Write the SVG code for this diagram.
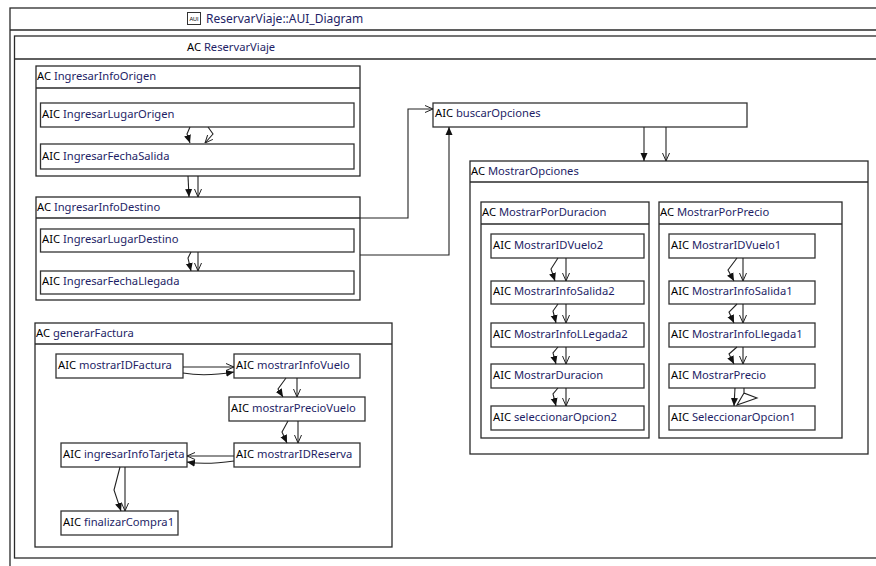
<svg xmlns="http://www.w3.org/2000/svg" width="876" height="566" viewBox="0 0 876 566">
<defs>
<style>
.fr{fill:#fff;stroke:#2a2a2a;stroke-width:1.3}
.bx{fill:#fff;stroke:#333;stroke-width:1.3}
.hl{stroke:#2a2a2a;stroke-width:1.3}
.t{font-family:"Noto Sans","Open Sans",sans-serif;font-size:11.2px;fill:#000}
.n{fill:#1e1e66}
.c{fill:none;stroke:#222;stroke-width:1.1}
</style>
<marker id="fa" viewBox="0 0 8 8" refX="8" refY="4" markerWidth="8" markerHeight="8" markerUnits="userSpaceOnUse" orient="auto"><path d="M0,0.5 L8,4 L0,7.5 z" fill="#111"/></marker>
<marker id="oa" viewBox="0 0 8 8" refX="8" refY="4" markerWidth="8" markerHeight="8" markerUnits="userSpaceOnUse" orient="auto"><path d="M0,0.5 L8,4 L0,7.5" fill="none" stroke="#222" stroke-width="1"/></marker>
</defs>
<rect width="876" height="566" fill="#fff"/>

<g id="frame-diagram">
<rect class="fr" x="10" y="8" width="880" height="570"/>
<line class="hl" x1="10" y1="30" x2="876" y2="30"/>
<rect x="187.5" y="12.5" width="13" height="12" fill="#fff" stroke="#333" stroke-width="1"/>
<text x="194" y="21" font-family="Liberation Sans,sans-serif" font-size="5.5" text-anchor="middle" fill="#000">AUI</text>
<text class="t" x="206" y="23" style="font-size:12px"><tspan class="n">ReservarViaje::AUI_Diagram</tspan></text>
</g>

<g id="ac-reservarviaje">
<rect class="fr" x="14.5" y="36" width="870" height="522"/>
<line class="hl" x1="14.5" y1="59" x2="876" y2="59"/>
<text class="t" x="187" y="51">AC <tspan class="n">ReservarViaje</tspan></text>
</g>

<g id="ac-ingresarinfoorigen">
<rect class="fr" x="36" y="66" width="324" height="110"/>
<line class="hl" x1="36" y1="88" x2="360" y2="88"/>
<text class="t" x="37" y="80">AC <tspan class="n">IngresarInfoOrigen</tspan></text>
</g>
<g id="aic-ingresarlugarorigen">
<rect class="bx" x="40.5" y="103" width="313.5" height="24"/>
<text class="t" x="42" y="118">AIC <tspan class="n">IngresarLugarOrigen</tspan></text>
</g>
<g id="aic-ingresarfechasalida">
<rect class="bx" x="40.5" y="144" width="313.5" height="25"/>
<text class="t" x="42" y="160">AIC <tspan class="n">IngresarFechaSalida</tspan></text>
</g>

<g id="ac-ingresarinfodestino">
<rect class="fr" x="36" y="197" width="324" height="103"/>
<line class="hl" x1="36" y1="218" x2="360" y2="218"/>
<text class="t" x="37" y="211">AC <tspan class="n">IngresarInfoDestino</tspan></text>
</g>
<g id="aic-ingresarlugardestino">
<rect class="bx" x="40.5" y="229" width="313.5" height="23"/>
<text class="t" x="42" y="243">AIC <tspan class="n">IngresarLugarDestino</tspan></text>
</g>
<g id="aic-ingresarfechallegada">
<rect class="bx" x="40.5" y="271" width="313.5" height="23"/>
<text class="t" x="42" y="285">AIC <tspan class="n">IngresarFechaLlegada</tspan></text>
</g>

<g id="aic-buscaropciones">
<rect class="bx" x="433" y="103" width="314" height="24"/>
<text class="t" x="435" y="117">AIC <tspan class="n">buscarOpciones</tspan></text>
</g>

<g id="ac-mostraropciones">
<rect class="fr" x="470" y="161" width="398" height="293"/>
<line class="hl" x1="470" y1="182" x2="868" y2="182"/>
<text class="t" x="471" y="175">AC <tspan class="n">MostrarOpciones</tspan></text>
</g>

<g id="ac-mostrarporduracion">
<rect class="fr" x="481" y="202" width="168" height="236"/>
<line class="hl" x1="481" y1="224" x2="649" y2="224"/>
<text class="t" x="482" y="216">AC <tspan class="n">MostrarPorDuracion</tspan></text>
</g>
<g id="aic-mostraridvuelo2"><rect class="bx" x="491" y="234" width="153" height="24"/><text class="t" x="493" y="249">AIC <tspan class="n">MostrarIDVuelo2</tspan></text></g>
<g id="aic-mostrarinfosalida2"><rect class="bx" x="491" y="281" width="153" height="23"/><text class="t" x="493" y="295">AIC <tspan class="n">MostrarInfoSalida2</tspan></text></g>
<g id="aic-mostrarinfollegada2"><rect class="bx" x="491" y="323" width="153" height="24"/><text class="t" x="493" y="338">AIC <tspan class="n">MostrarInfoLLegada2</tspan></text></g>
<g id="aic-mostrarduracion"><rect class="bx" x="491" y="364" width="153" height="24"/><text class="t" x="493" y="379">AIC <tspan class="n">MostrarDuracion</tspan></text></g>
<g id="aic-seleccionaropcion2"><rect class="bx" x="491" y="406" width="153" height="24"/><text class="t" x="493" y="421">AIC <tspan class="n">seleccionarOpcion2</tspan></text></g>

<g id="ac-mostrarporprecio">
<rect class="fr" x="659" y="202" width="183" height="236"/>
<line class="hl" x1="659" y1="224" x2="842" y2="224"/>
<text class="t" x="660" y="216">AC <tspan class="n">MostrarPorPrecio</tspan></text>
</g>
<g id="aic-mostraridvuelo1"><rect class="bx" x="669" y="234" width="146" height="24"/><text class="t" x="671" y="249">AIC <tspan class="n">MostrarIDVuelo1</tspan></text></g>
<g id="aic-mostrarinfosalida1"><rect class="bx" x="669" y="281" width="146" height="23"/><text class="t" x="671" y="295">AIC <tspan class="n">MostrarInfoSalida1</tspan></text></g>
<g id="aic-mostrarinfollegada1"><rect class="bx" x="669" y="323" width="146" height="24"/><text class="t" x="671" y="338">AIC <tspan class="n">MostrarInfoLlegada1</tspan></text></g>
<g id="aic-mostrarprecio"><rect class="bx" x="669" y="364" width="146" height="24"/><text class="t" x="671" y="379">AIC <tspan class="n">MostrarPrecio</tspan></text></g>
<g id="aic-seleccionaropcion1"><rect class="bx" x="669" y="406" width="146" height="24"/><text class="t" x="671" y="421">AIC <tspan class="n">SeleccionarOpcion1</tspan></text></g>

<g id="ac-generarfactura">
<rect class="fr" x="35" y="323" width="357" height="224"/>
<line class="hl" x1="35" y1="344" x2="392" y2="344"/>
<text class="t" x="36" y="337">AC <tspan class="n">generarFactura</tspan></text>
</g>
<g id="aic-mostraridfactura"><rect class="bx" x="56" y="354" width="127" height="24"/><text class="t" x="58" y="369">AIC <tspan class="n">mostrarIDFactura</tspan></text></g>
<g id="aic-mostrarinfovuelo"><rect class="bx" x="234" y="354" width="126" height="24"/><text class="t" x="236" y="369">AIC <tspan class="n">mostrarInfoVuelo</tspan></text></g>
<g id="aic-mostrarpreciovuelo"><rect class="bx" x="229" y="397" width="136" height="24"/><text class="t" x="231" y="412">AIC <tspan class="n">mostrarPrecioVuelo</tspan></text></g>
<g id="aic-mostraridreserva"><rect class="bx" x="234" y="443" width="126" height="24"/><text class="t" x="236" y="458">AIC <tspan class="n">mostrarIDReserva</tspan></text></g>
<g id="aic-ingresarinfotarjeta"><rect class="bx" x="61" y="443" width="126" height="24"/><text class="t" x="63" y="458">AIC <tspan class="n">ingresarInfoTarjeta</tspan></text></g>
<g id="aic-finalizarcompra1"><rect class="bx" x="61" y="511" width="117" height="24"/><text class="t" x="63" y="526">AIC <tspan class="n">finalizarCompra1</tspan></text></g>

<g id="connectors">
<path class="c" d="M190,127 L187,134 L190,143" marker-end="url(#fa)"/>
<path class="c" d="M208,127 L213,134 L205,143" marker-end="url(#oa)"/>
<path class="c" d="M188,176 L189,197" marker-end="url(#fa)"/>
<path class="c" d="M198,176 L198,197" marker-end="url(#oa)"/>
<path class="c" d="M191,252 L188,258 L191,271" marker-end="url(#fa)"/>
<path class="c" d="M198,252 L198,271" marker-end="url(#oa)"/>
<path class="c" d="M360,218 L408,218 L408,109 L433,109" marker-end="url(#oa)"/>
<path class="c" d="M360,255 L449,255 L449,127" marker-end="url(#fa)"/>
<path class="c" d="M644,127 L644,161" marker-end="url(#fa)"/>
<path class="c" d="M666,127 L666,161" marker-end="url(#oa)"/>

<path class="c" d="M558,258 L551,269 L555,281" marker-end="url(#fa)"/>
<path class="c" d="M566,258 L566,281" marker-end="url(#oa)"/>
<path class="c" d="M558,304 L553,311 L556,323" marker-end="url(#fa)"/>
<path class="c" d="M566,304 L566,323" marker-end="url(#oa)"/>
<path class="c" d="M558,347 L553,353 L556,364" marker-end="url(#fa)"/>
<path class="c" d="M566,347 L566,364" marker-end="url(#oa)"/>
<path class="c" d="M558,388 L553,394 L556,406" marker-end="url(#fa)"/>
<path class="c" d="M566,388 L566,406" marker-end="url(#oa)"/>

<path class="c" d="M737,258 L728,270 L734,281" marker-end="url(#fa)"/>
<path class="c" d="M743,258 L743,281" marker-end="url(#oa)"/>
<path class="c" d="M737,304 L729,312 L734,323" marker-end="url(#fa)"/>
<path class="c" d="M743,304 L743,323" marker-end="url(#oa)"/>
<path class="c" d="M737,347 L729,354 L734,364" marker-end="url(#fa)"/>
<path class="c" d="M743,347 L743,364" marker-end="url(#oa)"/>
<path class="c" d="M735,388 L734,406" marker-end="url(#fa)"/>
<path class="c" d="M744,388 L744,393 L757,398 L737,405 L744,393"/>

<path class="c" d="M183,367 L234,367" marker-end="url(#oa)"/>
<path class="c" d="M183,373 Q205,377 234,372" marker-end="url(#fa)"/>
<path class="c" d="M286,378 L278,389 L283,397" marker-end="url(#fa)"/>
<path class="c" d="M297,378 L297,397" marker-end="url(#oa)"/>
<path class="c" d="M288,421 L282,432 L287,443" marker-end="url(#fa)"/>
<path class="c" d="M298,421 L298,443" marker-end="url(#oa)"/>
<path class="c" d="M234,456 L187,456" marker-end="url(#oa)"/>
<path class="c" d="M234,461 Q205,465 187,462" marker-end="url(#fa)"/>
<path class="c" d="M120,467 L114,490 L121,511" marker-end="url(#fa)"/>
<path class="c" d="M125,467 L125,511" marker-end="url(#oa)"/>
</g>
</svg>
